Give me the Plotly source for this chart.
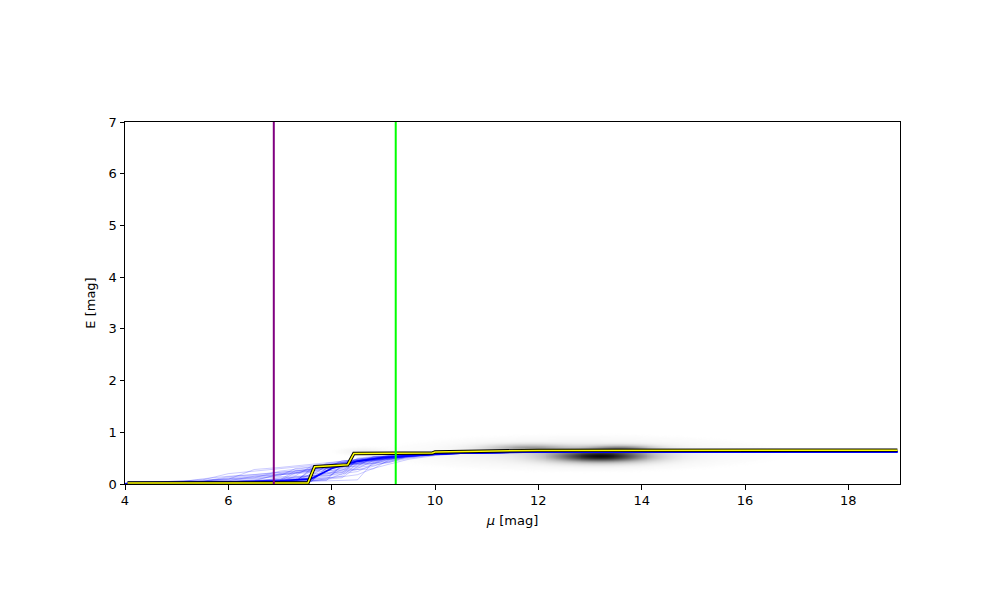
import numpy as np
import plotly.graph_objects as go

# ---------------- data ----------------
# common distance-modulus grid for the sampled extinction curves
sample_mu = [4.0, 5.0, 5.5, 6.0, 6.5, 7.0, 7.3, 7.6, 7.9, 8.2, 8.5, 8.8, 9.1, 9.5, 10.0, 10.5, 11.5, 12.5, 18.95]

sample_E = [
    [0.01,0.02,0.02,0.03,0.05,0.08,0.10,0.12,0.30,0.34,0.45,0.50,0.52,0.55,0.58,0.60,0.61,0.62,0.62],
    [0.01,0.01,0.02,0.02,0.03,0.04,0.05,0.28,0.32,0.38,0.48,0.52,0.54,0.56,0.59,0.60,0.62,0.63,0.63],
    [0.01,0.03,0.10,0.15,0.18,0.22,0.25,0.28,0.35,0.42,0.46,0.50,0.53,0.55,0.57,0.59,0.61,0.62,0.62],
    [0.01,0.02,0.03,0.05,0.08,0.18,0.20,0.22,0.26,0.40,0.44,0.52,0.54,0.56,0.58,0.60,0.61,0.62,0.62],
    [0.01,0.01,0.01,0.02,0.02,0.03,0.04,0.06,0.10,0.35,0.42,0.48,0.55,0.57,0.59,0.61,0.62,0.63,0.63],
    [0.01,0.05,0.08,0.20,0.25,0.30,0.32,0.35,0.38,0.42,0.45,0.48,0.50,0.54,0.57,0.59,0.61,0.62,0.62],
    [0.01,0.02,0.02,0.03,0.04,0.06,0.22,0.25,0.28,0.36,0.40,0.46,0.52,0.55,0.58,0.60,0.62,0.62,0.62],
    [0.01,0.01,0.02,0.02,0.03,0.05,0.07,0.09,0.12,0.15,0.40,0.44,0.50,0.56,0.59,0.60,0.61,0.62,0.62],
    [0.01,0.02,0.04,0.06,0.15,0.18,0.20,0.30,0.34,0.38,0.44,0.47,0.51,0.54,0.57,0.59,0.61,0.62,0.62],
    [0.01,0.01,0.02,0.03,0.04,0.05,0.06,0.08,0.25,0.30,0.36,0.50,0.53,0.56,0.58,0.60,0.61,0.62,0.63],
    [0.01,0.03,0.05,0.08,0.12,0.25,0.28,0.32,0.36,0.40,0.47,0.50,0.52,0.55,0.58,0.60,0.62,0.62,0.62],
    [0.01,0.02,0.02,0.03,0.03,0.04,0.05,0.06,0.08,0.20,0.24,0.38,0.48,0.54,0.58,0.60,0.61,0.62,0.62],
    [0.01,0.02,0.06,0.10,0.12,0.16,0.30,0.33,0.36,0.42,0.46,0.50,0.53,0.56,0.58,0.60,0.61,0.62,0.62],
    [0.01,0.01,0.02,0.04,0.06,0.08,0.10,0.18,0.34,0.38,0.43,0.46,0.50,0.55,0.58,0.60,0.62,0.63,0.63],
    [0.01,0.02,0.03,0.04,0.05,0.07,0.09,0.11,0.14,0.28,0.32,0.36,0.42,0.50,0.56,0.59,0.61,0.62,0.62],
    [0.01,0.04,0.06,0.09,0.28,0.32,0.35,0.37,0.40,0.44,0.48,0.51,0.53,0.55,0.57,0.59,0.61,0.62,0.62],
    [0.01,0.01,0.02,0.02,0.03,0.04,0.06,0.25,0.30,0.32,0.50,0.53,0.55,0.57,0.59,0.61,0.62,0.63,0.63],
    [0.01,0.02,0.03,0.05,0.07,0.10,0.14,0.16,0.20,0.24,0.30,0.45,0.50,0.54,0.57,0.60,0.61,0.62,0.62],
    [0.01,0.02,0.04,0.12,0.16,0.20,0.24,0.27,0.38,0.42,0.46,0.49,0.52,0.55,0.58,0.60,0.61,0.62,0.62],
    [0.01,0.01,0.01,0.02,0.03,0.04,0.05,0.07,0.09,0.12,0.34,0.40,0.46,0.52,0.57,0.59,0.61,0.62,0.62],
    [0.01,0.02,0.03,0.04,0.06,0.20,0.22,0.24,0.40,0.44,0.48,0.52,0.54,0.56,0.58,0.60,0.62,0.62,0.62],
    [0.01,0.02,0.02,0.03,0.04,0.05,0.08,0.12,0.16,0.22,0.28,0.34,0.44,0.52,0.57,0.59,0.61,0.62,0.62],
    [0.01,0.03,0.05,0.07,0.10,0.13,0.16,0.34,0.37,0.40,0.45,0.48,0.51,0.54,0.57,0.60,0.61,0.62,0.62],
    [0.01,0.01,0.02,0.02,0.03,0.03,0.04,0.05,0.30,0.36,0.40,0.43,0.47,0.53,0.58,0.60,0.62,0.62,0.63],
    [0.01,0.02,0.03,0.04,0.05,0.06,0.07,0.09,0.11,0.14,0.18,0.30,0.38,0.48,0.55,0.59,0.61,0.62,0.62],
    [0.01,0.06,0.08,0.10,0.14,0.18,0.22,0.26,0.30,0.34,0.42,0.46,0.50,0.54,0.57,0.59,0.61,0.62,0.62],
    [0.01,0.01,0.02,0.03,0.05,0.09,0.12,0.15,0.18,0.32,0.38,0.42,0.48,0.54,0.58,0.60,0.61,0.62,0.62],
    [0.01,0.02,0.03,0.04,0.06,0.08,0.26,0.29,0.32,0.36,0.40,0.52,0.54,0.56,0.58,0.60,0.62,0.62,0.62],
    [0.01,0.02,0.02,0.03,0.04,0.06,0.08,0.10,0.22,0.26,0.44,0.47,0.50,0.55,0.58,0.60,0.61,0.62,0.62],
    [0.01,0.03,0.05,0.14,0.18,0.22,0.25,0.28,0.31,0.36,0.41,0.45,0.49,0.54,0.57,0.59,0.61,0.62,0.62],
    [0.01,0.01,0.01,0.02,0.02,0.02,0.03,0.04,0.32,0.33,0.34,0.52,0.53,0.55,0.58,0.60,0.61,0.62,0.62],
    [0.01,0.02,0.02,0.02,0.03,0.03,0.04,0.20,0.21,0.22,0.45,0.46,0.47,0.56,0.59,0.60,0.62,0.62,0.62],
    [0.01,0.01,0.02,0.02,0.03,0.04,0.05,0.06,0.07,0.38,0.39,0.40,0.41,0.54,0.57,0.59,0.61,0.62,0.62],
    [0.01,0.02,0.02,0.03,0.03,0.04,0.15,0.16,0.17,0.18,0.48,0.49,0.50,0.51,0.57,0.60,0.61,0.62,0.62],
    [0.01,0.01,0.02,0.02,0.03,0.03,0.04,0.05,0.06,0.07,0.08,0.42,0.43,0.55,0.58,0.60,0.61,0.62,0.62],
    [0.01,0.02,0.03,0.03,0.04,0.12,0.13,0.14,0.36,0.37,0.38,0.39,0.52,0.54,0.57,0.59,0.61,0.62,0.62],
    [0.01,0.01,0.02,0.02,0.03,0.03,0.04,0.30,0.31,0.45,0.46,0.47,0.48,0.53,0.58,0.60,0.62,0.62,0.62],
    [0.01,0.02,0.02,0.03,0.03,0.04,0.05,0.06,0.26,0.27,0.28,0.29,0.46,0.55,0.58,0.60,0.61,0.62,0.62],
]

# median (solid blue) curve
median_mu = [4.05, 5.0, 6.0, 7.0, 7.6, 8.0, 8.5, 9.0, 9.5, 10.0, 10.5, 11.0, 12.0, 18.95]
median_E = [0.03, 0.03, 0.04, 0.06, 0.10, 0.30, 0.44, 0.51, 0.55, 0.58, 0.60, 0.61, 0.62, 0.625]

# best-fit (yellow, black outline) curve
best_mu = [4.05, 7.54, 7.67, 8.31, 8.43, 9.95, 10.0, 11.0, 12.0, 18.95]
best_E = [0.02, 0.02, 0.335, 0.37, 0.59, 0.60, 0.62, 0.635, 0.65, 0.655]

# vertical markers
purple_mu = 6.88
green_mu = 9.24

# density blobs (grey map): centre mu, centre E, width mu, width E, amplitude
blob_mu = [13.2, 11.8, 13.6, 12.8, 8.6]
blob_E = [0.54, 0.70, 0.69, 0.60, 0.63]
blob_smu = [0.65, 0.55, 0.45, 1.6, 0.25]
blob_sE = [0.08, 0.05, 0.045, 0.15, 0.04]
blob_amp = [0.85, 0.35, 0.40, 0.12, 0.07]

x_range = [4, 19]
y_range = [0, 7]
x_ticks = [4, 6, 8, 10, 12, 14, 16, 18]
y_ticks = [0, 1, 2, 3, 4, 5, 6, 7]

# ---------------- figure ----------------
gx = np.linspace(4, 19, 400)
gy = np.linspace(0, 1.4, 180)
X, Y = np.meshgrid(gx, gy)
Z = np.zeros_like(X)
for m, e, sm, se, a in zip(blob_mu, blob_E, blob_smu, blob_sE, blob_amp):
    Z += a * np.exp(-0.5 * (((X - m) / sm) ** 2 + ((Y - e) / se) ** 2))

fig = go.Figure()
fig.add_trace(go.Heatmap(
    x=gx, y=gy, z=Z, zmin=0, zmax=1.0,
    colorscale=[[0, "rgba(255,255,255,0)"], [0.01, "rgb(252,252,252)"],
                [0.3, "rgb(190,190,190)"], [1, "rgb(0,0,0)"]],
    showscale=False, zsmooth="best", hoverinfo="skip"))

for row in sample_E:
    fig.add_trace(go.Scatter(x=sample_mu, y=row, mode="lines",
                             line=dict(color="rgba(0,0,255,0.25)", width=0.8),
                             showlegend=False, hoverinfo="skip"))

fig.add_trace(go.Scatter(x=median_mu, y=median_E, mode="lines",
                         line=dict(color="#0000ff", width=1.8), showlegend=False))

fig.add_trace(go.Scatter(x=best_mu, y=best_E, mode="lines",
                         line=dict(color="black", width=3.4), showlegend=False))
fig.add_trace(go.Scatter(x=best_mu, y=best_E, mode="lines",
                         line=dict(color="#ffff00", width=1.5), showlegend=False))

fig.add_trace(go.Scatter(x=[purple_mu, purple_mu], y=y_range, mode="lines",
                         line=dict(color="#800080", width=2), showlegend=False))
fig.add_trace(go.Scatter(x=[green_mu, green_mu], y=y_range, mode="lines",
                         line=dict(color="#00ff00", width=2), showlegend=False))

axis_common = dict(showgrid=False, zeroline=False, showline=True, linecolor="black",
                   linewidth=1, mirror=True, ticks="outside", ticklen=4.5,
                   tickwidth=1, tickcolor="black",
                   tickfont=dict(family="DejaVu Sans", size=13, color="black"))

fig.update_layout(
    width=1000, height=600,
    margin=dict(l=117, r=108, t=114, b=124),
    paper_bgcolor="white", plot_bgcolor="white",
    font=dict(family="DejaVu Sans", size=13, color="black"),
    xaxis=dict(range=x_range, tickvals=x_ticks,
               title=dict(text="<i>μ</i> [mag]", standoff=8,
                          font=dict(family="DejaVu Sans", size=13)),
               **axis_common),
    yaxis=dict(range=y_range, tickvals=y_ticks,
               title=dict(text="E [mag]", standoff=10,
                          font=dict(family="DejaVu Sans", size=13)),
               **axis_common),
)

fig.write_html("out.html")
